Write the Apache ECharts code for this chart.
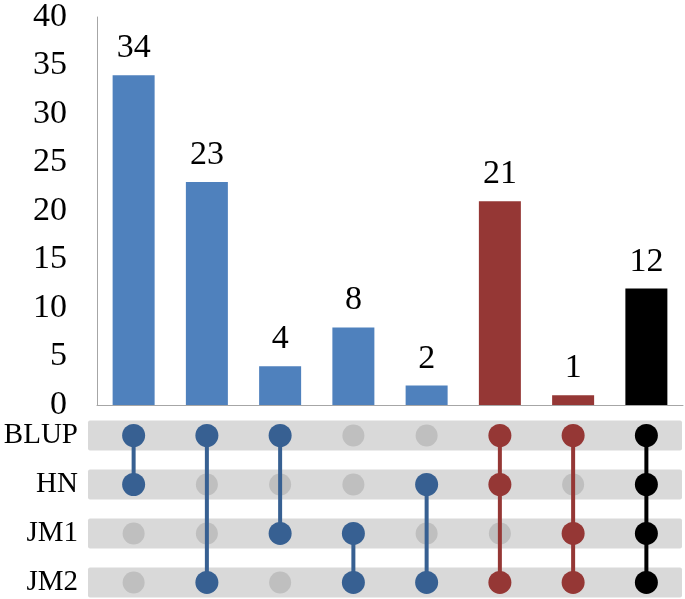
<!DOCTYPE html>
<html>
<head>
<meta charset="utf-8">
<script src="https://cdn.jsdelivr.net/npm/echarts@6/dist/echarts.min.js"></script>
<style>html,body{margin:0;padding:0;background:#fff;}#c{width:685px;height:599px;}</style>
</head>
<body>
<div id="c"></div>
<script>
// ---- data ----
var combos = ['BLUP+HN', 'BLUP+JM2', 'BLUP+JM1', 'JM1+JM2', 'HN+JM2', 'BLUP+HN+JM2', 'BLUP+JM1+JM2', 'ALL'];
var counts = [34, 23, 4, 8, 2, 21, 1, 12];
var sets = ['JM2', 'JM1', 'HN', 'BLUP']; // bottom to top, rows 1..4
var rowValues = [1, 2, 3, 4];
var members = [
  ['BLUP', 'HN'],
  ['BLUP', 'JM2'],
  ['BLUP', 'JM1'],
  ['JM1', 'JM2'],
  ['HN', 'JM2'],
  ['BLUP', 'HN', 'JM2'],
  ['BLUP', 'JM1', 'JM2'],
  ['BLUP', 'HN', 'JM1', 'JM2']
];
var groups = ['blue', 'blue', 'blue', 'blue', 'blue', 'red', 'red', 'black'];
var yTicks = [0, 5, 10, 15, 20, 25, 30, 35, 40];

// ---- styles ----
var barColors = { blue: '#4F81BD', red: '#953735', black: '#000000' };
var dotColors = { blue: '#376092', red: '#953735', black: '#000000' };
var FONT = '"Liberation Serif", "Times New Roman", serif';

function rowOf(s) { return rowValues[sets.indexOf(s)]; }

var barData = counts.map(function (v, i) {
  return { value: v, itemStyle: { color: barColors[groups[i]] } };
});

var activeDots = [], greyDots = [], links = [];
members.forEach(function (m, i) {
  sets.forEach(function (s) {
    if (m.indexOf(s) >= 0) activeDots.push({ value: [i, rowOf(s)], itemStyle: { color: dotColors[groups[i]], opacity: 1 } });
    else greyDots.push([i, rowOf(s)]);
  });
  var rows = m.map(rowOf);
  links.push([i, Math.min.apply(null, rows), Math.max.apply(null, rows), groups[i]]);
});
var bandData = rowValues.map(function (r) { return [0, r]; });

var chart = echarts.init(document.getElementById('c'), null, { renderer: 'canvas' });
chart.setOption({
  animation: false,
  backgroundColor: '#ffffff',
  grid: [
    { left: 97, right: 2, top: 13, height: 392 },
    { left: 97, right: 2, top: 411, bottom: 0 }
  ],
  xAxis: [
    { type: 'category', gridIndex: 0, data: combos,
      axisLine: { show: true, lineStyle: { color: '#A6A6A6', width: 1 } },
      axisTick: { show: false }, axisLabel: { show: false } },
    { type: 'category', gridIndex: 1, data: combos,
      axisLine: { show: false }, axisTick: { show: false }, axisLabel: { show: false } }
  ],
  yAxis: [
    { type: 'value', gridIndex: 0, min: yTicks[0], max: yTicks[yTicks.length - 1], interval: 5,
      splitLine: { show: false },
      axisLine: { show: true, lineStyle: { color: '#A6A6A6', width: 1 } },
      axisTick: { show: false },
      axisLabel: { fontFamily: FONT, fontSize: 34, color: '#000', margin: 30 } },
    { type: 'value', gridIndex: 1, min: 0.663, max: 4.5,
      axisLine: { show: false }, axisTick: { show: false }, splitLine: { show: false },
      axisLabel: { customValues: rowValues, showMinLabel: true, showMaxLabel: true,
        formatter: function (v) { return sets[rowValues.indexOf(Math.round(v))] || ''; },
        fontFamily: FONT, fontSize: 29, color: '#000', margin: 19 } }
  ],
  series: [
    { type: 'bar', xAxisIndex: 0, yAxisIndex: 0, data: barData, barWidth: 42,
      label: { show: true, position: 'top', distance: 10, fontFamily: FONT, fontSize: 34, color: '#000' } },
    { type: 'custom', xAxisIndex: 1, yAxisIndex: 1, data: bandData, z: 1, clip: false,
      renderItem: function (params, api) {
        var cs = params.coordSys;
        var p = api.coord([0, api.value(1)]);
        return { type: 'rect',
          shape: { x: cs.x - 9, y: p[1] - 15, width: cs.width + 9 - 1, height: 30, r: 2 },
          style: { fill: '#D9D9D9' } };
      } },
    { type: 'scatter', xAxisIndex: 1, yAxisIndex: 1, data: greyDots, symbolSize: 22, z: 2,
      itemStyle: { color: '#BFBFBF', opacity: 1 } },
    { type: 'custom', xAxisIndex: 1, yAxisIndex: 1, data: links, z: 3,
      encode: { x: 0, y: [1, 2] },
      renderItem: function (params, api) {
        var g = links[params.dataIndex][3];
        var a = api.coord([api.value(0), api.value(1)]);
        var b = api.coord([api.value(0), api.value(2)]);
        return { type: 'line', shape: { x1: a[0], y1: a[1], x2: b[0], y2: b[1] },
          style: { stroke: dotColors[g], lineWidth: 4 } };
      } },
    { type: 'scatter', xAxisIndex: 1, yAxisIndex: 1, data: activeDots, symbolSize: 23, z: 4,
      itemStyle: { opacity: 1 } }
  ]
});
</script>
</body>
</html>
